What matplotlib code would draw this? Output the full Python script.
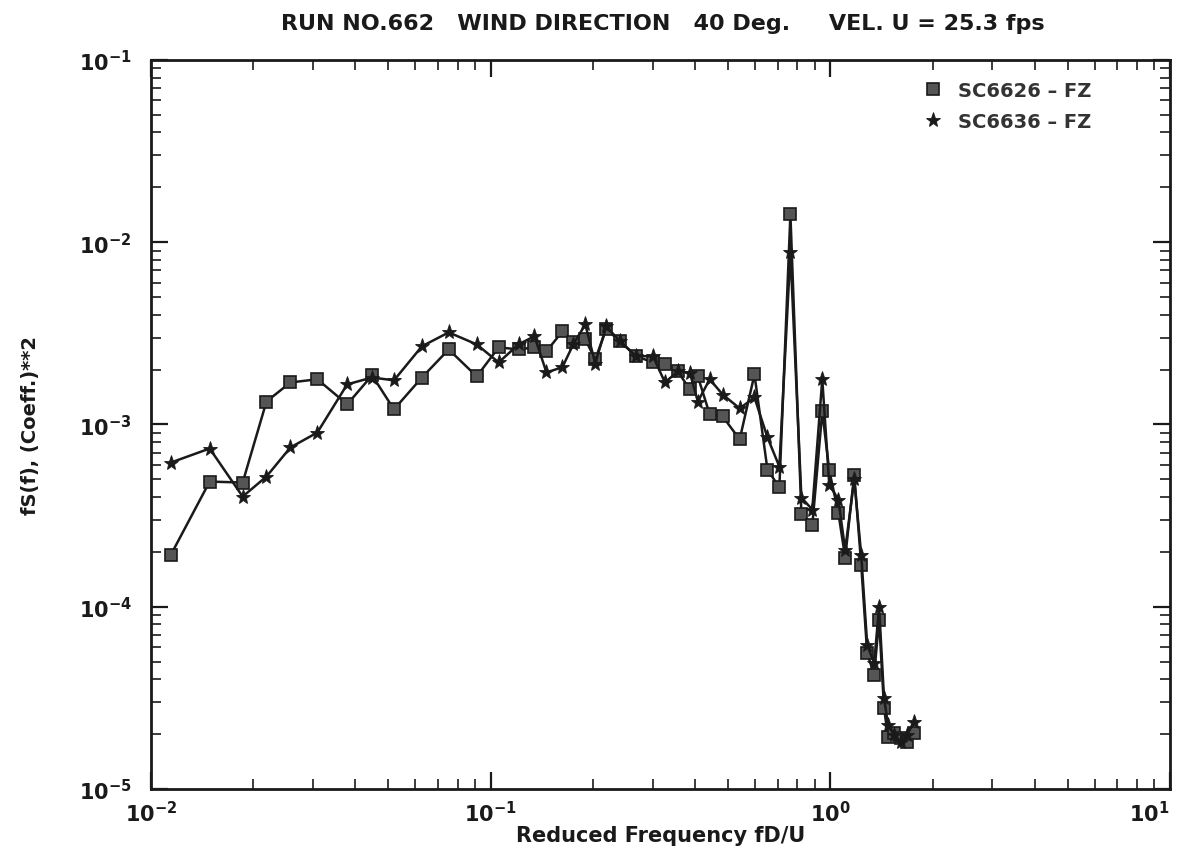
import matplotlib
matplotlib.use("Agg")
import math
import matplotlib.pyplot as plt
from matplotlib.ticker import LogLocator, FixedLocator, FuncFormatter, NullFormatter

# Reduced frequency fD/U (shared by both balances)
freq = [0.01145, 0.01489, 0.01862, 0.02188, 0.02574, 0.03089, 0.03782, 0.04477,
        0.05193, 0.06276, 0.07527, 0.0910, 0.1056, 0.1208, 0.1346, 0.1460,
        0.1626, 0.1751, 0.190, 0.2032, 0.2189, 0.2405, 0.268, 0.3006,
        0.326, 0.3556, 0.386, 0.4074, 0.4416, 0.482, 0.541, 0.598,
        0.653, 0.708, 0.763, 0.822, 0.885, 0.947, 0.993, 1.056,
        1.106, 1.176, 1.233, 1.284, 1.346, 1.392, 1.439, 1.479,
        1.541, 1.615, 1.682, 1.763]

# fS(f) for SC6626 - FZ
sc6626 = [1.93e-4, 4.86e-4, 4.80e-4, 1.336e-3, 1.70e-3, 1.77e-3, 1.29e-3, 1.86e-3,
          1.21e-3, 1.81e-3, 2.58e-3, 1.835e-3, 2.65e-3, 2.58e-3, 2.65e-3, 2.52e-3,
          3.24e-3, 2.82e-3, 2.93e-3, 2.275e-3, 3.33e-3, 2.86e-3, 2.37e-3, 2.19e-3,
          2.14e-3, 1.955e-3, 1.556e-3, 1.835e-3, 1.135e-3, 1.107e-3, 8.28e-4, 1.88e-3,
          5.66e-4, 4.51e-4, 1.426e-2, 3.24e-4, 2.79e-4, 1.178e-3, 5.59e-4, 3.28e-4,
          1.86e-4, 5.31e-4, 1.70e-4, 5.58e-5, 4.23e-5, 8.49e-5, 2.79e-5, 1.93e-5,
          2.03e-5, 1.905e-5, 1.81e-5, 2.03e-5]

# fS(f) for SC6636 - FZ
sc6636 = [6.18e-4, 7.38e-4, 4.02e-4, 5.18e-4, 7.48e-4, 9.03e-4, 1.66e-3, 1.81e-3,
          1.746e-3, 2.685e-3, 3.20e-3, 2.75e-3, 2.19e-3, 2.75e-3, 3.05e-3, 1.93e-3,
          2.06e-3, 2.75e-3, 3.54e-3, 2.16e-3, 3.45e-3, 2.86e-3, 2.37e-3, 2.37e-3,
          1.70e-3, 1.955e-3, 1.92e-3, 1.336e-3, 1.77e-3, 1.46e-3, 1.225e-3, 1.406e-3,
          8.5e-4, 5.87e-4, 8.81e-3, 3.97e-4, 3.41e-4, 1.77e-3, 4.68e-4, 3.87e-4,
          2.05e-4, 4.99e-4, 1.93e-4, 6.18e-5, 4.9e-5, 1.0e-4, 3.16e-5, 2.25e-5,
          1.98e-5, 1.81e-5, 1.98e-5, 2.33e-5]

series_labels = ["SC6626 \u2013 FZ", "SC6636 \u2013 FZ"]
title_text = "RUN NO.662   WIND DIRECTION   40 Deg.     VEL. U = 25.3 fps"
xlabel_text = "Reduced Frequency fD/U"
ylabel_text = "fS(f), (Coeff.)**2"

FONT = "DejaVu Sans"
INK = "#1a1a1a"
plt.rcParams["mathtext.fontset"] = "dejavusans"

fig = plt.figure(figsize=(11.83, 8.54), dpi=100)
ax = fig.add_axes([0.1276, 0.075, 0.8614, 0.8536])

ax.plot(freq, sc6626, color=INK, lw=1.8, marker="s", ms=8,
        mfc="#555555", mec=INK, mew=1.2, label=series_labels[0], zorder=3)
ax.plot(freq, sc6636, color=INK, lw=1.8, marker="*", ms=11,
        mfc=INK, mec=INK, mew=0.6, label=series_labels[1], zorder=3)

ax.set_xscale("log")
ax.set_yscale("log")
ax.set_xlim(1e-2, 1e1)
ax.set_ylim(1e-5, 1e-1)

for s in ax.spines.values():
    s.set_linewidth(2.0)
    s.set_color(INK)

ax.xaxis.set_major_locator(FixedLocator([1e-2, 1e-1, 1e0, 1e1]))
ax.yaxis.set_major_locator(FixedLocator([1e-5, 1e-4, 1e-3, 1e-2, 1e-1]))
ax.xaxis.set_minor_locator(LogLocator(base=10, subs=range(2, 10), numticks=20))
ax.yaxis.set_minor_locator(LogLocator(base=10, subs=range(2, 10), numticks=20))
ax.xaxis.set_minor_formatter(NullFormatter())
ax.yaxis.set_minor_formatter(NullFormatter())


def pow_label(v, pos):
    e = int(round(math.log10(v)))
    return r"$\mathbf{10^{%d}}$" % e


ax.xaxis.set_major_formatter(FuncFormatter(pow_label))
ax.yaxis.set_major_formatter(FuncFormatter(pow_label))

ax.tick_params(which="major", direction="in", length=12, width=1.6,
               top=True, right=True, labelsize=15, colors=INK, pad=8)
ax.tick_params(which="minor", direction="in", length=7, width=1.2,
               top=True, right=True, colors=INK)
ax.tick_params(axis="y", which="major", pad=14)

fig.canvas.draw()
# keep the last decade label inside the figure edge
ax.get_xticklabels()[-1].set_horizontalalignment("right")

fig.text(0.56, 0.972, title_text, ha="center", va="center",
         fontsize=16, fontweight="bold", family=FONT, color=INK)
ax.set_xlabel(xlabel_text, fontsize=15, fontweight="bold", family=FONT,
              color=INK, labelpad=0)
ax.set_ylabel(ylabel_text, fontsize=14, fontweight="bold", family=FONT,
              color=INK, labelpad=28)

leg = ax.legend(loc="upper right", bbox_to_anchor=(0.94, 0.995), frameon=False,
                handlelength=1.0, handletextpad=0.8, labelspacing=0.6,
                prop={"family": FONT, "size": 14, "weight": "bold"})
for h in leg.legend_handles:
    h.set_linestyle("none")
for t in leg.get_texts():
    t.set_color("#333333")

fig.savefig("out.png", dpi=100, facecolor="white")
